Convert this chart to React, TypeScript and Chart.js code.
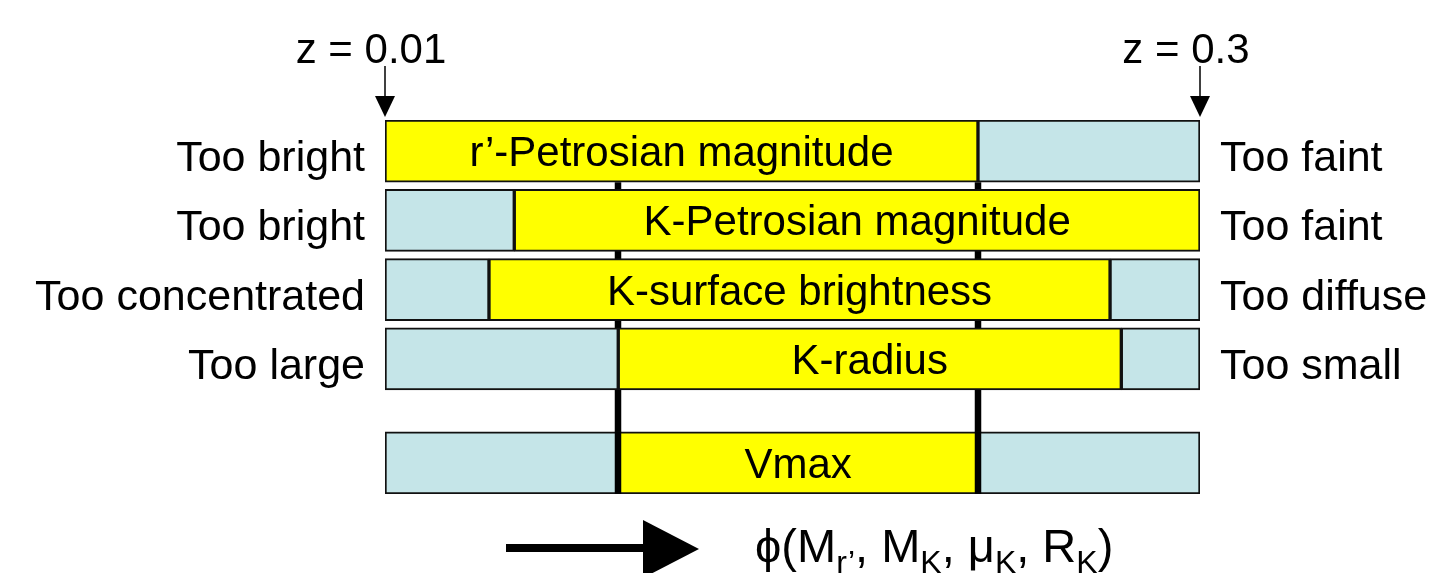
import React, { useEffect, useRef } from "react";
import { Chart, registerables } from "chart.js";

Chart.register(...registerables);

// ---- data ----
const rowNames = [
  "r’-Petrosian magnitude",
  "K-Petrosian magnitude",
  "K-surface brightness",
  "K-radius",
  "Vmax",
];
const rowPos = [0, 1, 2, 3, 4.5];
const leftLabels = ["Too bright", "Too bright", "Too concentrated", "Too large", ""];
const rightLabels = ["Too faint", "Too faint", "Too diffuse", "Too small", ""];
const zMin = 0.01;
const zMax = 0.3;
const yellowStart = [0.01, 0.056, 0.047, 0.093, 0.093];
const yellowEnd = [0.221, 0.3, 0.268, 0.272, 0.221];
const vmaxLimits = [0.093, 0.221];
const zMarkers = [0.01, 0.3];
const zMarkerLabels = ["z = 0.01", "z = 0.3"];

const YELLOW = "#FFFF00";
const BLUE = "#C5E5E8";
const FONT = '"Liberation Sans", Arial, sans-serif';

const leftBlue = rowPos
  .map((p, i) => ({ y: p, x: [zMin, yellowStart[i]] }))
  .filter((d) => d.x[1] > d.x[0]);
const yellowBars = rowPos.map((p, i) => ({ y: p, x: [yellowStart[i], yellowEnd[i]] }));
const rightBlue = rowPos
  .map((p, i) => ({ y: p, x: [yellowEnd[i], zMax] }))
  .filter((d) => d.x[1] > d.x[0]);

const BAR_H = 62;

const diagramPlugin = {
  id: "diagram",
  beforeDatasetsDraw(chart: any) {
    const { ctx } = chart;
    const xs = chart.scales.x;
    const ys = chart.scales.y;
    const top = ys.getPixelForValue(rowPos[0]) + BAR_H / 2;
    const bottom = ys.getPixelForValue(rowPos[4]) + BAR_H / 2;
    ctx.save();
    ctx.strokeStyle = "#000";
    ctx.lineWidth = 6.5;
    vmaxLimits.forEach((z) => {
      const px = Math.round(xs.getPixelForValue(z));
      ctx.beginPath();
      ctx.moveTo(px, top);
      ctx.lineTo(px, bottom);
      ctx.stroke();
    });
    ctx.restore();
  },
  afterDatasetsDraw(chart: any) {
    const { ctx } = chart;
    const xs = chart.scales.x;
    const ys = chart.scales.y;
    ctx.save();
    // vertical limits over the Vmax row
    const vy = ys.getPixelForValue(rowPos[4]);
    ctx.strokeStyle = "#000";
    ctx.lineWidth = 6.5;
    vmaxLimits.forEach((z) => {
      const px = Math.round(xs.getPixelForValue(z));
      ctx.beginPath();
      ctx.moveTo(px, vy - BAR_H / 2);
      ctx.lineTo(px, vy + BAR_H / 2);
      ctx.stroke();
    });

    // text labels
    ctx.fillStyle = "#000";
    ctx.textBaseline = "alphabetic";
    rowPos.forEach((p, i) => {
      const cy = ys.getPixelForValue(p);
      const cx = (xs.getPixelForValue(yellowStart[i]) + xs.getPixelForValue(yellowEnd[i])) / 2;
      ctx.font = `42px ${FONT}`;
      ctx.textAlign = "center";
      ctx.fillText(rowNames[i], cx, cy + 15);
      ctx.font = `43px ${FONT}`;
      ctx.textAlign = "right";
      ctx.fillText(leftLabels[i], xs.left - 20, cy + 20);
      ctx.textAlign = "left";
      ctx.fillText(rightLabels[i], xs.right + 20, cy + 20);
    });

    // z markers with arrows
    ctx.font = `42px ${FONT}`;
    zMarkers.forEach((z, i) => {
      const px = Math.round(xs.getPixelForValue(z));
      const tipY = chart.chartArea.top - 3;
      ctx.textAlign = "center";
      ctx.fillText(zMarkerLabels[i], px - 14, 63);
      ctx.lineWidth = 1.5;
      ctx.beginPath();
      ctx.moveTo(px, 66);
      ctx.lineTo(px, tipY - 18);
      ctx.stroke();
      ctx.beginPath();
      ctx.moveTo(px - 10, tipY - 21);
      ctx.lineTo(px + 10, tipY - 21);
      ctx.lineTo(px, tipY);
      ctx.closePath();
      ctx.fill();
    });

    // bottom arrow
    ctx.lineWidth = 8;
    ctx.beginPath();
    ctx.moveTo(506, 548);
    ctx.lineTo(646, 548);
    ctx.stroke();
    ctx.beginPath();
    ctx.moveTo(643, 520);
    ctx.lineTo(699, 549);
    ctx.lineTo(643, 578);
    ctx.closePath();
    ctx.fill();

    // formula
    const pieces: [string, boolean][] = [
      ["ϕ(M", false],
      ["r’", true],
      [", M", false],
      ["K", true],
      [", μ", false],
      ["K", true],
      [", R", false],
      ["K", true],
      [")", false],
    ];
    let fx = 755;
    const base = 562;
    ctx.textAlign = "left";
    pieces.forEach(([t, sub]) => {
      ctx.font = sub ? `32px ${FONT}` : `47px ${FONT}`;
      ctx.fillText(t, fx, sub ? base + 11 : base);
      fx += ctx.measureText(t).width;
    });
    ctx.restore();
  },
};

export default function App() {
  const ref = useRef<HTMLCanvasElement | null>(null);
  useEffect(() => {
    if (!ref.current) return;
    const chart = new Chart(ref.current, {
      type: "bar",
      data: {
        datasets: [
          { data: leftBlue as any, backgroundColor: BLUE },
          { data: yellowBars as any, backgroundColor: YELLOW },
          { data: rightBlue as any, backgroundColor: BLUE },
        ],
      },
      options: {
        indexAxis: "y",
        responsive: false,
        animation: false,
        devicePixelRatio: 1,
        layout: { padding: { left: 385, right: 247, top: 120, bottom: 79 } },
        datasets: {
          bar: {
            grouped: false,
            barThickness: BAR_H,
            borderWidth: 2,
            borderColor: "#111",
            borderSkipped: false,
          } as any,
        },
        scales: {
          x: { type: "linear", min: zMin, max: zMax, display: false, offset: false },
          y: { type: "linear", min: -0.45, max: 4.95, reverse: true, display: false, offset: false },
        },
        plugins: {
          legend: { display: false },
          tooltip: { enabled: false },
        },
      },
      plugins: [diagramPlugin],
    });
    return () => chart.destroy();
  }, []);
  return (
    <div style={{ position: "fixed", left: 0, top: 0, width: 1447, height: 573, background: "#fff" }}>
      <canvas ref={ref} width={1447} height={573} />
    </div>
  );
}
